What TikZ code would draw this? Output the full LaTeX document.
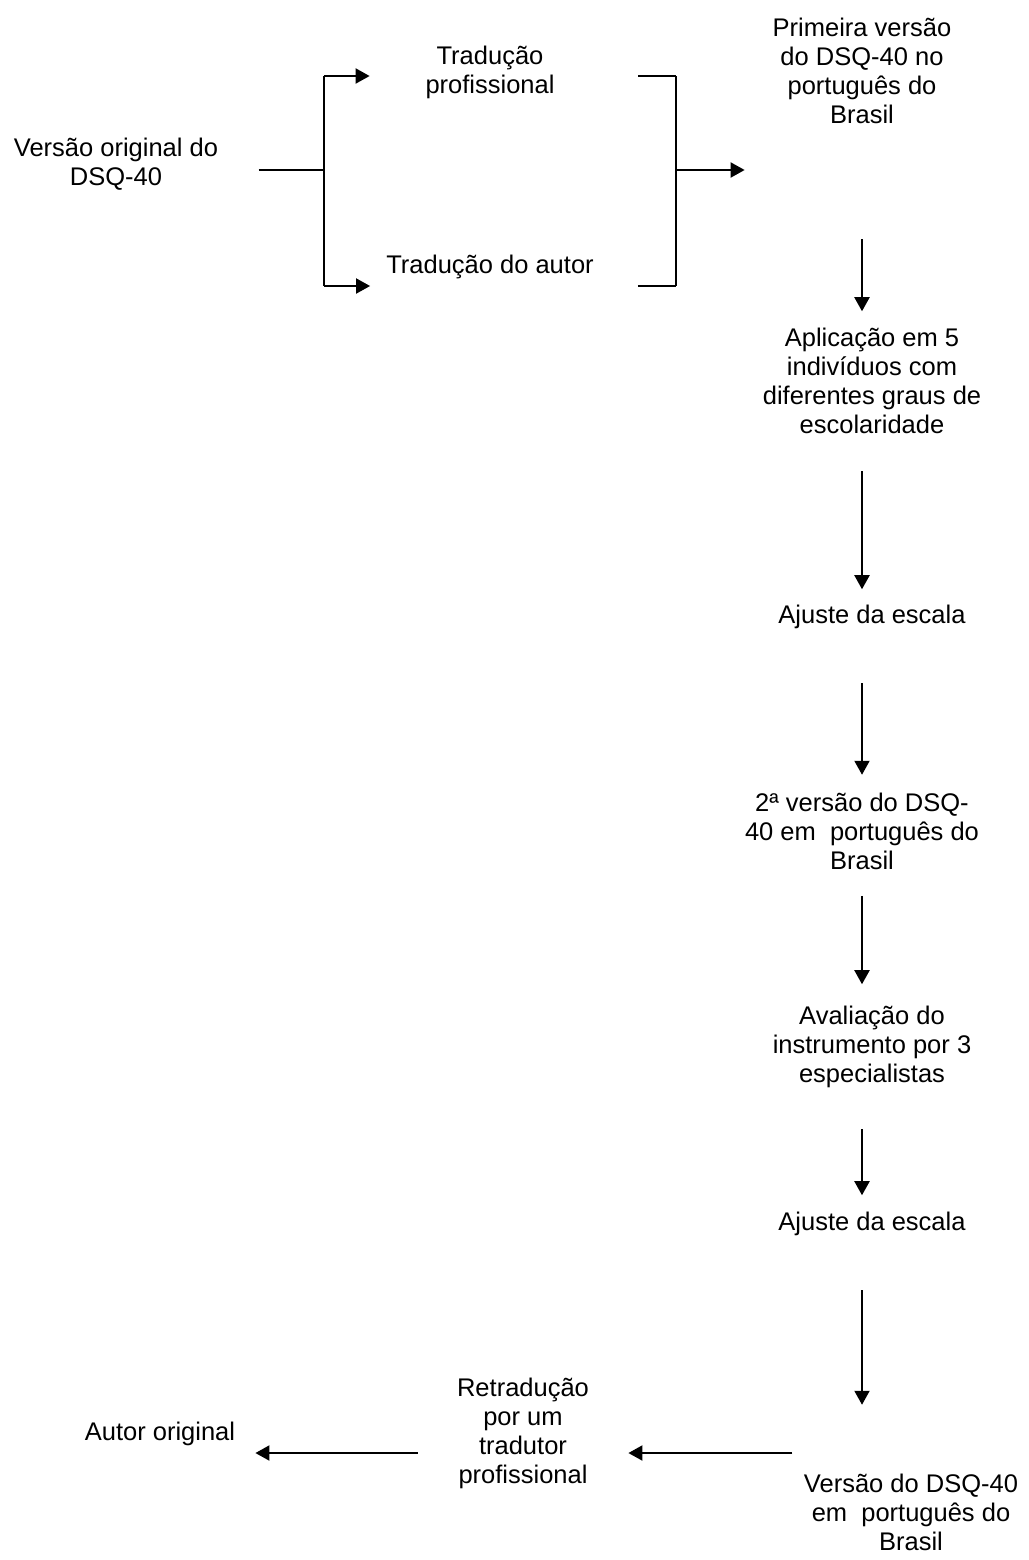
\documentclass[tikz,border=0pt]{standalone}
\usepackage{fontspec}
\setmainfont{Liberation Sans}
\usepackage{tikz}
\usetikzlibrary{arrows.meta, positioning, calc}
\tikzstyle{stage} = [align=center, inner sep=0pt, font=\fontsize{12.75pt}{14.5pt}\selectfont]
\tikzstyle{link} = [line width=1pt]
\tikzstyle{arrow} = [line width=1pt, -{Triangle[length=7pt, width=7.5pt]}]

\begin{document}
\begin{tikzpicture}[x=0.5pt, y=-0.5pt]
    \useasboundingbox (0,0) rectangle (1029,1560);

    % Original version and the two translations
    \node[stage] (orig) at (116,164) {Versão original do\\DSQ-40};
    \node[stage] (tprof) at (490,72) {Tradução\\profissional};
    \node[stage] (taut) at (490,267) {Tradução do autor};
    \node[stage] (prim) at (862,71) {Primeira versão\\do DSQ-40 no\\português do\\Brasil};

    % Main column
    \node[stage] (apl) at (872,381) {Aplicação em 5\\indivíduos com\\diferentes graus de\\escolaridade};
    \node[stage] (aj1) at (872,617) {Ajuste da escala};
    \node[stage] (seg) at (862,831) {2ª versão do DSQ-\\40 em\ \ português do\\Brasil};
    \node[stage] (aval) at (872,1047) {Avaliação do\\instrumento por 3\\especialistas};
    \node[stage] (aj2) at (872,1224) {Ajuste da escala};
    \node[stage] (fin) at (911,1512) {Versão do DSQ-40\\em\ \ português do\\Brasil};

    % Back translation
    \node[stage] (retr) at (523,1433) {Retradução\\por um\\tradutor\\profissional};
    \node[stage] (autor) at (160,1434) {Autor original};

    % Elbow points
    \coordinate (split) at (324,170);
    \coordinate (sTop) at (324,76);
    \coordinate (sBot) at (324,286);
    \coordinate (join) at (676,170);
    \coordinate (jTop) at (676,76);
    \coordinate (jBot) at (676,286);
    \coordinate (backrow) at (0,1453);

    % Split and join
    \draw[link, shorten <=20.1pt] (orig.east |- split) -- (split);
    \draw[link] (sTop) -- (sBot);
    \draw[arrow, shorten >=27.75pt] (sTop) -- (sTop -| tprof.west);
    \draw[arrow, shorten >=7.9pt] (sBot) -- (sBot -| taut.west);
    \draw[link, shorten <=41.75pt] (tprof.east |- jTop) -- (jTop);
    \draw[link, shorten <=21.9pt] (taut.east |- jBot) -- (jBot);
    \draw[link] (jTop) -- (jBot);
    \draw[arrow, shorten >=13.85pt] (join) -- (join -| prim.west);

    % Down the column
    \draw[arrow, shorten <=57.5pt, shorten >=8.25pt] (prim.south) -- (prim.south |- apl.north);
    \draw[arrow, shorten <=18.5pt, shorten >=7.75pt] (apl.south -| prim.south) -- (aj1.north -| prim.south);
    \draw[arrow, shorten <=27pt, shorten >=8.75pt] (aj1.south -| prim.south) -- (seg.north -| prim.south);
    \draw[arrow, shorten <=13pt, shorten >=10.75pt] (seg.south -| prim.south) -- (aval.north -| prim.south);
    \draw[arrow, shorten <=20.5pt, shorten >=8.25pt] (aval.south -| prim.south) -- (aj2.north -| prim.south);
    \draw[arrow, shorten <=27pt, shorten >=34.25pt] (aj2.south -| prim.south) -- (fin.north -| prim.south);

    % Back to the author
    \draw[arrow, shorten <=5.65pt, shorten >=19.55pt] (fin.west |- backrow) -- (retr.east |- backrow);
    \draw[arrow, shorten <=19.55pt, shorten >=9.95pt] (retr.west |- backrow) -- (autor.east |- backrow);
\end{tikzpicture}
\end{document}
